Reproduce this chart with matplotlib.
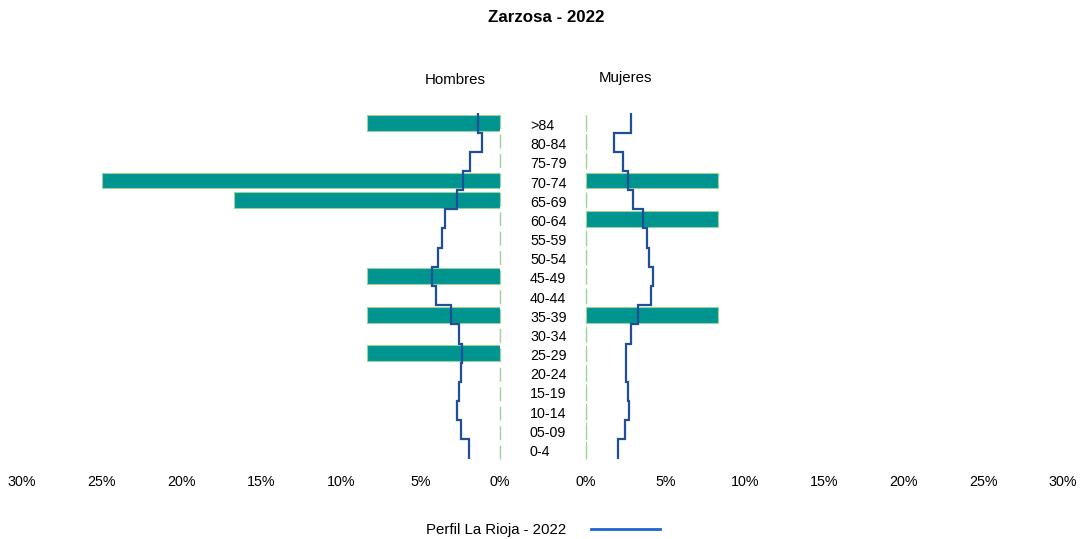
import numpy as np
import matplotlib
matplotlib.use("Agg")
import matplotlib.pyplot as plt
from matplotlib.lines import Line2D
import matplotlib.transforms as mtransforms

plt.rcParams['font.family'] = ['Liberation Sans', 'DejaVu Sans']

age_groups = ["0-4", "05-09", "10-14", "15-19", "20-24", "25-29", "30-34", "35-39",
              "40-44", "45-49", "50-54", "55-59", "60-64", "65-69", "70-74", "75-79",
              "80-84", ">84"]
hombres = [0, 0, 0, 0, 0, 8.33, 0, 8.33, 0, 8.33, 0, 0, 0, 16.67, 25.0, 0, 0, 8.33]
mujeres = [0, 0, 0, 0, 0, 0, 0, 8.33, 0, 0, 0, 0, 8.33, 0, 8.33, 0, 0, 0]
rioja_hombres = [1.93, 2.47, 2.72, 2.60, 2.47, 2.37, 2.60, 3.10, 4.04, 4.27, 3.91, 3.64,
                 3.43, 2.72, 2.34, 1.88, 1.15, 1.36]
rioja_mujeres = [2.03, 2.45, 2.70, 2.62, 2.49, 2.49, 2.81, 3.27, 4.09, 4.21, 3.98, 3.81,
                 3.56, 2.98, 2.62, 2.35, 1.74, 2.83]
xticks = [0, 5, 10, 15, 20, 25, 30]
xticklabels = ["0%", "5%", "10%", "15%", "20%", "25%", "30%"]

W, H = 1080, 539
fig = plt.figure(figsize=(W / 100, H / 100), dpi=100)

bottom = 1 - 458.6 / H
top = 1 - 113.4 / H
axL = fig.add_axes([22 / W, bottom, (500 - 22) / W, top - bottom])
axR = fig.add_axes([586 / W, bottom, (1063 - 586) / W, top - bottom])

bar_color = "#009490"
edge_color = "#9ad49a"
line_color = "#1f4f98"
y = np.arange(len(age_groups))
edges = np.arange(-0.5, len(age_groups), 1.0)

for ax, vals, prof in [(axL, hombres, rioja_hombres), (axR, mujeres, rioja_mujeres)]:
    ax.axvline(0, color="#9fd49f", lw=1.0, linestyle=(0, (10, 4)), zorder=1, clip_on=False)
    ax.barh(y, vals, height=0.83, color=bar_color, edgecolor=edge_color, linewidth=0.8, zorder=2)
    ax.stairs(prof, edges, orientation="horizontal", baseline=None,
              color=line_color, lw=1.6, zorder=3)
    ax.set_ylim(-0.5, len(age_groups) - 0.5)
    ax.set_yticks([])
    ax.set_xticks(xticks)
    ax.set_xticklabels(xticklabels, fontsize=10.3)
    ax.tick_params(axis="x", length=0, pad=12)
    for s in ax.spines.values():
        s.set_visible(False)

axL.set_xlim(30, 0)
axR.set_xlim(0, 30)

trans = mtransforms.blended_transform_factory(fig.transFigure, axL.transData)
offset = mtransforms.ScaledTranslation(0, -3 / 100, fig.dpi_scale_trans)
for i, lab in enumerate(age_groups):
    fig.text(530 / W, i, lab, transform=trans + offset, ha="left", va="center", fontsize=10.3)

fig.text(455 / W, 1 - 80 / H, "Hombres", ha="center", va="center", fontsize=10.8)
fig.text(625 / W, 1 - 78 / H, "Mujeres", ha="center", va="center", fontsize=10.8)
fig.text(546 / W, 1 - 18 / H, "Zarzosa - 2022", ha="center", va="center",
         fontsize=12.2, fontweight="bold")

handle = Line2D([], [], color="#1a66cc", lw=2)
fig.legend([handle], ["Perfil La Rioja - 2022"], loc="center",
           bbox_to_anchor=(543 / W, 1 - 530 / H), markerfirst=False, frameon=False,
           handlelength=4.6, handletextpad=1.6, fontsize=10.8)

fig.savefig("out.png", dpi=100)
